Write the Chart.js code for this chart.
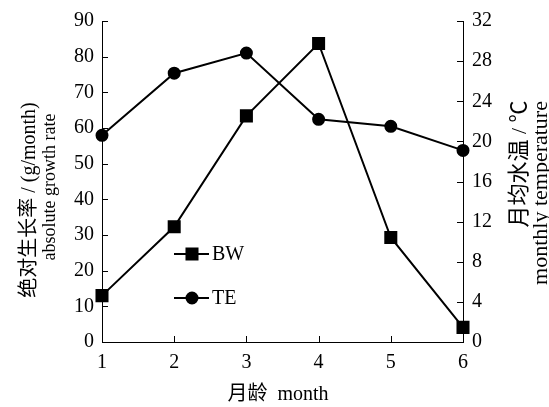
<!DOCTYPE html>
<html>
<head>
<meta charset="utf-8">
<script src="https://cdn.jsdelivr.net/npm/chart.js@4.4.0/dist/chart.umd.min.js"></script>
<style>
  html, body { margin: 0; padding: 0; background: #fff; }
  #wrap { width: 549px; height: 407px; }
</style>
</head>
<body>
<div id="wrap"><canvas id="graph"></canvas></div>
<script>
// monthly values
const months = ["1", "2", "3", "4", "5", "6"];
const bw = [13, 32.3, 63.4, 83.7, 29.3, 4.1];     // absolute growth rate, g/month
const te = [20.6, 26.8, 28.8, 22.2, 21.5, 19.1];  // monthly water temperature, °C

const leftMax = 90, leftStep = 10;
const rightMax = 32, rightStep = 4;

const serif = "'Liberation Serif', 'Noto Sans CJK SC', serif";
const ink = "#000";

// short tick marks pointing into the plot
const innerTicks = {
  id: "innerTicks",
  afterDatasetsDraw(chart) {
    const ctx = chart.ctx;
    const { x, y, y1 } = chart.scales;
    const len = 6;
    ctx.save();
    ctx.strokeStyle = ink;
    ctx.lineWidth = 1;
    ctx.beginPath();
    x.ticks.forEach((t, i) => {
      const px = Math.round(x.getPixelForTick(i)) + 0.5;
      ctx.moveTo(px, x.top);
      ctx.lineTo(px, x.top - len);
    });
    y.ticks.forEach((t) => {
      const py = Math.round(y.getPixelForValue(t.value)) + 0.5;
      ctx.moveTo(y.right, py);
      ctx.lineTo(y.right + len, py);
    });
    y1.ticks.forEach((t) => {
      const py = Math.round(y1.getPixelForValue(t.value)) + 0.5;
      ctx.moveTo(y1.left, py);
      ctx.lineTo(y1.left - len, py);
    });
    ctx.stroke();
    ctx.restore();
  },
};

// legend with line + marker, and the axis titles
const annotations = {
  id: "annotations",
  afterDraw(chart) {
    const ctx = chart.ctx;
    const area = chart.chartArea;
    ctx.save();
    ctx.fillStyle = ink;
    ctx.strokeStyle = ink;
    ctx.font = "20px " + serif;
    ctx.textBaseline = "middle";

    chart.data.datasets.forEach((ds, i) => {
      const ly = 254 + i * 44;
      const lx = area.left + 72;
      ctx.lineWidth = 2;
      ctx.beginPath();
      ctx.moveTo(lx, ly);
      ctx.lineTo(lx + 35, ly);
      ctx.stroke();
      Chart.helpers.drawPoint(ctx, { pointStyle: ds.pointStyle, radius: ds.pointRadius, rotation: 0, borderWidth: 1 }, lx + 18, ly);
      ctx.textAlign = "left";
      ctx.fillText(ds.label, lx + 38, ly + 1);
    });

    ctx.textAlign = "center";
    ctx.fillText("月龄  month", 278, 395);

    const vtext = (txt, size, cx, cy) => {
      ctx.save();
      ctx.font = size + "px " + serif;
      ctx.translate(cx, cy);
      ctx.rotate(-Math.PI / 2);
      ctx.fillText(txt, 0, 0);
      ctx.restore();
    };
    vtext("绝对生长率 / (g/month)", 20, 30, 200);
    vtext("absolute growth rate", 18, 50, 187);
    vtext("月均水温 / ℃", 22, 520, 164);
    vtext("monthly temperature", 22, 541, 193);
    ctx.restore();
  },
};

const tickFont = { family: serif, size: 20 };

new Chart(document.getElementById("graph"), {
  type: "line",
  data: {
    labels: months,
    datasets: [
      {
        label: "BW",
        data: bw,
        yAxisID: "y",
        borderColor: ink,
        backgroundColor: ink,
        borderWidth: 2,
        pointStyle: "rect",
        pointRadius: 7.8,
        tension: 0,
      },
      {
        label: "TE",
        data: te,
        yAxisID: "y1",
        borderColor: ink,
        backgroundColor: ink,
        borderWidth: 2,
        pointStyle: "circle",
        pointRadius: 5.5,
        tension: 0,
      },
    ],
  },
  options: {
    responsive: true,
    maintainAspectRatio: false,
    animation: false,
    layout: { padding: { top: 20, left: 0, right: 0, bottom: 0 } },
    plugins: { legend: { display: false }, tooltip: { enabled: false } },
    scales: {
      x: {
        type: "category",
        offset: false,
        grid: { display: false, drawTicks: false },
        border: { display: true, color: ink, width: 1 },
        ticks: { color: ink, font: tickFont, padding: 9, maxRotation: 0 },
        afterFit(s) { s.height = 65; },
      },
      y: {
        position: "left",
        min: 0,
        max: leftMax,
        grid: { display: false, drawTicks: false },
        border: { display: true, color: ink, width: 1 },
        ticks: { stepSize: leftStep, color: ink, font: tickFont, padding: 8 },
        afterFit(s) { s.width = 102; },
      },
      y1: {
        position: "right",
        min: 0,
        max: rightMax,
        grid: { display: false, drawTicks: false },
        border: { display: true, color: ink, width: 1 },
        ticks: { stepSize: rightStep, color: ink, font: tickFont, padding: 9 },
        afterFit(s) { s.width = 86; },
      },
    },
  },
  plugins: [innerTicks, annotations],
});
</script>
</body>
</html>
